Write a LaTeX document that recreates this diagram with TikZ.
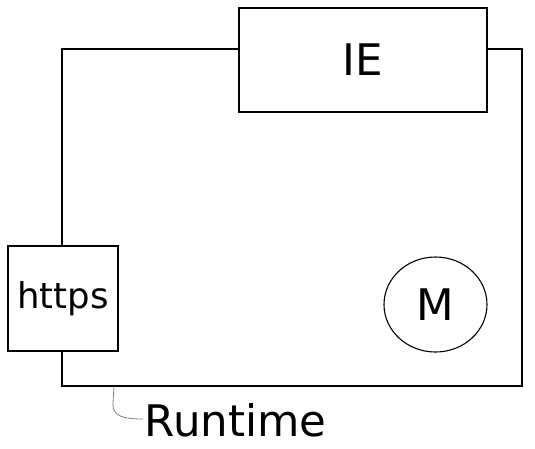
\documentclass[tikz,border=0pt]{standalone}
\usepackage{fontspec}
\setmainfont{DejaVu Sans}
\usetikzlibrary{shapes.geometric}
\begin{document}
\begin{tikzpicture}[x=1pt,y=-1pt,
  box/.style={draw=black,line width=1.1pt,fill=white,inner sep=0pt},
  bigfont/.style={font=\fontsize{43.5}{50}\selectfont},
  midfont/.style={font=\fontsize{35.5}{42}\selectfont}]
\useasboundingbox (0,0) rectangle (535,448);
\coordinate (rtl) at (62,49);
\coordinate (rbr) at (522,386);
\draw[line width=1.1pt] (rtl) rectangle (rbr);
\node[box,bigfont,minimum width=248pt,minimum height=104pt] (ie) at (363,60) {IE};
\node[box,midfont,minimum width=110pt,minimum height=105pt] (https) at (63,298.5) {https};
\node[draw=black,line width=1.1pt,ellipse,inner sep=0pt,minimum width=103pt,minimum height=95pt,bigfont] (m) at (435.5,304.5) {M};
\node[bigfont,anchor=base west,inner sep=0pt] (rt) at (144.5,436) {Runtime};
\coordinate (lstart) at (114,386);
\coordinate (lend) at (143,419);
\draw[gray,line width=0.8pt] (lstart) -- (113,403) .. controls (112,416) and (123,419) .. (lend);
\end{tikzpicture}
\end{document}
